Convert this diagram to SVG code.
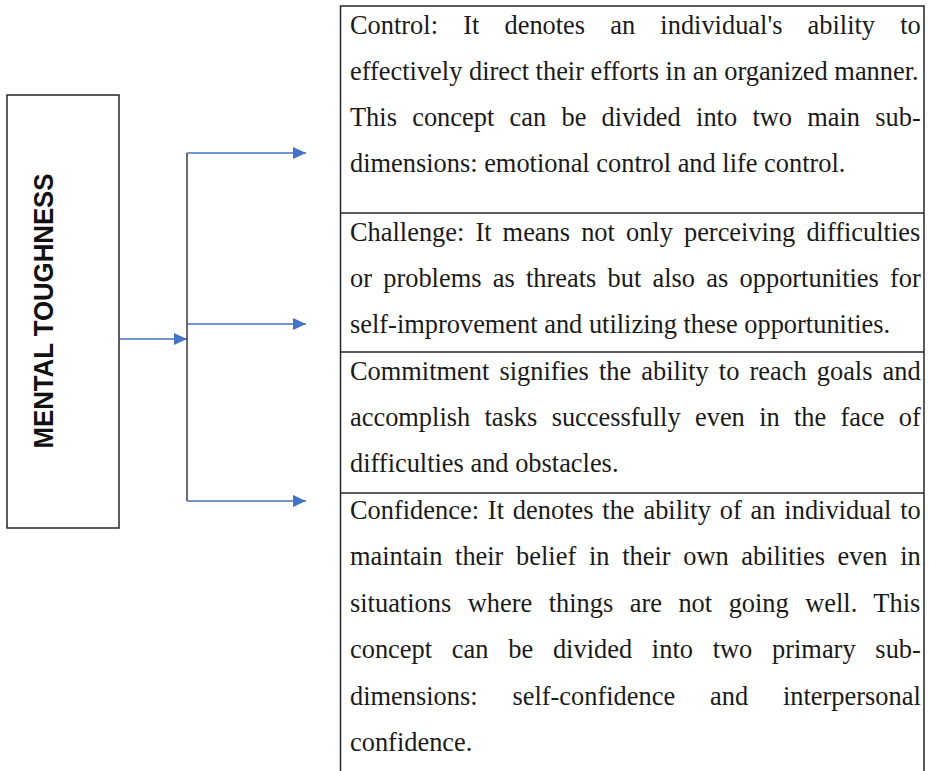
<svg xmlns="http://www.w3.org/2000/svg" width="929" height="771" viewBox="0 0 929 771">
  <style>
    .box { fill: #ffffff; stroke: #262626; stroke-width: 1.5; }
    .rule { fill: none; stroke: #262626; stroke-width: 1.5; }
    .link { fill: none; stroke: #4472C4; stroke-width: 1.5; }
    .trunk { fill: none; stroke: #3a3a3a; stroke-width: 1.5; }
    .title { font-family: "Liberation Sans", Arial, sans-serif; font-weight: bold; font-size: 28px; fill: #111111; }
    .body { font-family: "Liberation Serif", "Times New Roman", serif; font-size: 26.4px; fill: #1a1a1a; }
  </style>
  <defs>
    <marker id="arrow" markerUnits="userSpaceOnUse" markerWidth="13" markerHeight="12" refX="13" refY="6" orient="auto">
      <path d="M0,0 L13,6 L0,12 z" fill="#4472C4"/>
    </marker>
  </defs>
  <rect width="929" height="771" fill="#ffffff"/>

  <!-- root node -->
  <g id="mental-toughness">
    <rect class="box" x="7" y="95" width="112" height="433"/>
    <text class="title" transform="translate(53,311) rotate(-90)" x="0" y="0" text-anchor="middle" textLength="275" lengthAdjust="spacingAndGlyphs">MENTAL TOUGHNESS</text>
  </g>

  <!-- connectors -->
  <g id="connectors">
    <line class="link" x1="119" y1="339" x2="187" y2="339" marker-end="url(#arrow)"/>
    <line class="trunk" x1="187" y1="153" x2="187" y2="501"/>
    <line class="link" x1="187" y1="153" x2="306" y2="153" marker-end="url(#arrow)"/>
    <line class="link" x1="187" y1="324" x2="306" y2="324" marker-end="url(#arrow)"/>
    <line class="link" x1="187" y1="501" x2="306" y2="501" marker-end="url(#arrow)"/>
  </g>

  <!-- table frame -->
  <g id="table-frame">
    <path class="rule" d="M340.5,771 V6 H924 V771"/>
    <line class="rule" x1="340.5" y1="213" x2="924" y2="213"/>
    <line class="rule" x1="340.5" y1="352" x2="924" y2="352"/>
    <line class="rule" x1="340.5" y1="493" x2="924" y2="493"/>
  </g>

  <!-- text cells: justified lines are spread with word-spacing -->
  <g id="control" class="body">
    <text x="350" y="34" style="word-spacing:18.59px">Control: It denotes an individual's ability to</text>
    <text x="350" y="80">effectively direct their efforts in an organized manner.</text>
    <text x="350" y="126" style="word-spacing:8.68px">This concept can be divided into two main sub-</text>
    <text x="350" y="172">dimensions: emotional control and life control.</text>
  </g>

  <g id="challenge" class="body">
    <text x="350" y="241" style="word-spacing:4.49px">Challenge: It means not only perceiving difficulties</text>
    <text x="350" y="287" style="word-spacing:4.66px">or problems as threats but also as opportunities for</text>
    <text x="350" y="333">self-improvement and utilizing these opportunities.</text>
  </g>

  <g id="commitment" class="body">
    <text x="350" y="380" style="word-spacing:3.52px">Commitment signifies the ability to reach goals and</text>
    <text x="350" y="426" style="word-spacing:7.74px">accomplish tasks successfully even in the face of</text>
    <text x="350" y="472">difficulties and obstacles.</text>
  </g>

  <g id="confidence" class="body">
    <text x="350" y="519" style="word-spacing:2.27px">Confidence: It denotes the ability of an individual to</text>
    <text x="350" y="565.4" style="word-spacing:6.11px">maintain their belief in their own abilities even in</text>
    <text x="350" y="611.8" style="word-spacing:9.91px">situations where things are not going well. This</text>
    <text x="350" y="658.2" style="word-spacing:13.18px">concept can be divided into two primary sub-</text>
    <text x="350" y="704.6" style="word-spacing:28.30px">dimensions: self-confidence and interpersonal</text>
    <text x="350" y="751">confidence.</text>
  </g>
</svg>
